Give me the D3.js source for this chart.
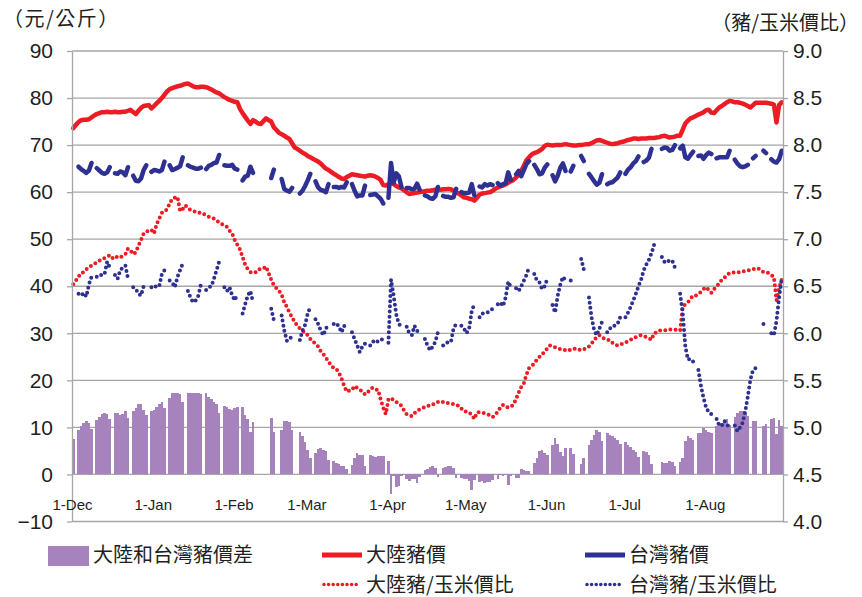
<!DOCTYPE html>
<html><head><meta charset="utf-8">
<script src="https://cdn.jsdelivr.net/npm/d3@7"></script>
<style>
html,body{margin:0;padding:0;background:#fff;}
svg{display:block;font-family:"Liberation Sans",Arial,sans-serif;}
.cjk{font-family:"Noto Sans CJK TC","Noto Sans CJK SC",sans-serif;}
</style></head><body>
<svg id="chart" width="862" height="597"></svg>
<script>
// ---------------- data ----------------
const startDate = "2013-12-01";
const endDate = "2014-08-31";
const xTickDates = ["2013-12-01","2014-01-01","2014-02-01","2014-03-01","2014-04-01","2014-05-01","2014-06-01","2014-07-01","2014-08-01"];
const leftTicks = [-10,0,10,20,30,40,50,60,70,80,90];
const rightTicks = [4.0,4.5,5.0,5.5,6.0,6.5,7.0,7.5,8.0,8.5,9.0];
const leftUnit = "（元/公斤）";
const rightUnit = "（豬/玉米價比）";
const seriesNames = ["大陸和台灣豬價差","大陸豬價","台灣豬價","大陸豬/玉米價比","台灣豬/玉米價比"];
const n = null;

// daily values, one per day from startDate
const mainlandPrice = [
73.6,74.3,74.9,75.3,75.4,75.4,75.5,75.9,76.3,76.6,
76.8,77.0,77.0,77.1,77.0,77.0,77.1,77.0,77.0,77.1,
77.1,77.3,77.5,77.0,76.6,77.3,77.9,78.3,78.4,78.5,
77.8,78.3,78.9,79.4,80.0,80.7,81.4,81.9,82.1,82.3,
82.5,82.6,82.8,83.0,83.1,82.8,82.5,82.3,82.3,82.4,
82.4,82.3,82.1,81.8,81.5,81.2,81.0,80.6,80.2,79.9,
79.6,79.4,79.2,79.1,77.7,76.8,76.0,75.2,74.5,75.3,
75.0,74.6,74.5,75.1,75.7,75.3,75.0,73.8,73.2,72.6,
72.3,72.0,71.6,71.3,70.4,69.5,69.2,68.8,68.4,68.1,
67.7,67.4,67.1,66.8,66.5,66.1,65.5,65.0,64.7,64.3,
63.9,63.6,63.2,62.9,62.8,63.2,63.5,63.8,63.7,63.6,
63.5,63.4,63.3,63.5,63.6,63.5,63.3,63.0,62.6,61.5,
61.4,61.7,62.0,61.7,61.3,61.0,60.8,60.4,60.0,59.6,
59.7,59.8,59.9,60.0,60.1,60.2,60.3,60.3,60.4,60.5,
60.5,60.5,60.6,60.6,60.7,60.6,60.3,60.0,59.7,59.3,
58.9,58.8,58.6,58.5,58.2,58.8,59.5,59.7,59.8,59.9,
60.0,60.3,60.7,61.0,61.2,61.4,61.7,62.0,62.3,62.6,
63.1,63.8,64.6,65.6,66.8,67.4,68.0,68.3,68.5,68.8,
69.2,69.8,70.1,70.0,69.9,70.0,70.0,70.0,70.1,70.2,
70.1,70.0,69.9,69.9,70.0,70.0,70.1,70.2,70.2,70.4,
70.7,71.0,71.1,70.9,70.7,70.5,70.3,70.2,70.3,70.4,
70.6,70.7,70.9,71.1,71.2,71.4,71.4,71.3,71.4,71.4,
71.4,71.5,71.5,71.5,71.6,71.7,71.9,72.0,71.8,71.6,
71.7,71.8,72.0,72.0,73.3,74.6,75.2,75.7,75.9,76.2,
76.5,76.7,77.0,77.4,77.5,76.9,76.8,77.4,78.0,78.3,
78.7,79.1,79.4,79.3,79.1,79.1,79.0,78.8,78.6,78.3,
78.0,78.5,79.0,79.0,79.0,79.0,79.0,78.9,78.8,78.6,
74.8,78.5,79.1];

const taiwanPrice = [
66.1,n,65.4,64.9,64.5,64.1,64.6,66.2,n,65.1,
64.6,64.1,63.9,64.2,65.3,n,64.0,63.9,64.4,64.2,
63.6,65.3,n,63.5,62.4,62.3,62.9,64.7,65.7,n,
64.3,64.7,64.6,64.4,64.7,66.5,n,65.7,64.7,64.9,
65.2,65.5,67.4,n,65.7,65.4,65.2,65.0,65.0,65.2,
n,64.9,65.6,65.8,66.2,66.3,67.9,n,65.7,65.6,
65.6,65.8,65.0,64.8,n,62.5,63.3,63.5,65.4,64.1,
n,n,n,n,n,n,63.0,64.8,n,n,
62.8,60.7,60.3,60.1,60.9,n,n,59.7,60.3,61.3,
62.5,63.9,n,62.3,61.0,60.5,60.3,60.0,61.7,n,
61.1,61.1,60.9,61.1,61.0,62.1,n,61.7,60.3,59.1,
59.3,59.3,61.4,n,59.4,59.5,59.6,59.1,58.6,57.6,
n,58.8,66.2,62.0,64.0,63.4,61.1,n,60.9,60.9,
60.6,60.7,61.8,60.5,n,59.3,59.1,58.7,58.6,59.1,
61.1,n,59.2,59.0,59.0,58.8,58.9,60.7,n,60.0,
59.8,59.8,59.9,61.7,59.3,n,61.2,61.0,61.7,61.4,
61.7,61.5,n,61.9,61.4,61.7,61.9,64.2,62.6,n,
63.8,64.5,63.4,64.7,66.0,66.6,n,65.8,64.9,63.8,
64.0,65.2,65.9,n,63.6,62.3,63.5,65.2,66.1,64.5,
n,64.4,65.6,n,n,67.7,66.6,n,63.9,63.1,
62.3,61.6,62.0,63.8,n,61.7,62.0,62.1,62.6,63.1,
64.2,n,63.9,64.8,65.3,66.1,66.6,67.6,n,66.4,
66.7,67.3,69.2,n,n,n,69.2,69.5,69.4,68.8,
69.0,70.0,n,69.3,69.9,67.4,67.1,67.9,68.6,n,
67.7,67.8,67.1,67.9,68.4,68.1,n,67.2,67.4,67.4,
67.4,67.4,68.8,n,66.9,66.1,65.5,65.3,65.5,65.8,
n,67.2,67.7,n,n,68.8,68.3,n,67.0,66.5,
66.3,67.0,68.8];

const priceGap = [
7.5,n,9.5,10.4,10.9,11.3,10.9,9.7,n,11.5,
12.2,12.9,13.1,12.9,11.7,n,13.1,13.1,12.6,12.9,
13.5,12.0,n,13.5,14.2,15.0,15.0,13.6,12.7,n,
13.5,13.6,14.3,15.0,15.3,14.2,n,16.2,17.4,17.4,
17.3,17.1,15.4,n,17.4,17.4,17.3,17.3,17.3,17.2,
n,17.4,16.5,16.0,15.3,14.9,13.1,n,14.5,14.3,
14.0,13.6,14.2,14.3,n,14.3,12.7,11.7,9.1,11.2,
n,n,n,n,n,n,12.0,9.0,n,n,
9.5,11.3,11.3,11.2,9.5,n,n,9.1,8.1,6.8,
5.2,3.5,n,4.5,5.5,5.6,5.2,5.0,3.0,n,
2.8,2.5,2.3,1.8,1.8,1.1,n,2.1,3.4,4.5,
4.2,4.1,1.9,n,4.2,4.0,3.7,3.9,4.0,3.9,
n,2.9,-4.2,-0.3,-2.7,-2.4,-0.3,n,-0.9,-1.3,
-0.9,-0.9,-1.9,-0.5,n,0.9,1.2,1.6,1.8,1.4,
-0.6,n,1.4,1.6,1.7,1.8,1.4,-0.7,n,-0.7,
-0.9,-1.0,-1.3,-3.2,-1.1,n,-1.7,-1.3,-1.9,-1.5,
-1.7,-1.2,n,-0.9,-0.2,-0.3,-0.2,-2.2,-0.3,n,
-0.7,-0.7,1.2,0.9,0.8,0.8,n,2.5,3.6,5.0,
5.2,4.6,4.2,n,6.3,7.7,6.5,4.8,4.0,5.7,
n,5.6,4.3,n,n,2.3,3.5,n,6.3,7.3,
8.4,9.4,9.1,7.1,n,8.8,8.3,8.1,7.7,7.3,
6.4,n,7.0,6.3,5.9,5.3,4.8,3.7,n,5.0,
4.7,4.2,2.3,n,n,n,2.7,2.5,2.4,2.8,
2.7,1.8,n,2.7,3.4,7.2,8.1,7.8,7.3,n,
8.8,8.9,9.9,9.5,9.1,8.8,n,10.2,10.6,10.9,
11.3,11.7,10.6,n,12.2,13.0,13.5,13.5,13.1,12.5,
n,11.3,11.3,n,n,10.2,10.7,n,11.8,12.1,
8.5,11.5,10.3];

const mainlandRatio = [
6.52,6.56,6.60,6.64,6.65,6.68,6.70,6.72,6.74,6.75,
6.77,6.79,6.80,6.81,6.83,6.80,6.79,6.82,6.81,6.82,
6.84,6.90,6.88,6.84,6.86,6.93,6.99,7.06,7.08,7.09,
7.10,7.06,7.16,7.22,7.28,7.29,7.32,7.38,7.43,7.44,
7.45,7.30,7.32,7.36,7.33,7.31,7.30,7.29,7.29,7.27,
7.27,7.25,7.24,7.23,7.22,7.20,7.18,7.16,7.15,7.13,
7.09,7.06,6.99,6.94,6.89,6.81,6.73,6.68,6.65,6.64,
6.65,6.68,6.68,6.69,6.71,6.64,6.57,6.51,6.48,6.45,
6.41,6.33,6.28,6.22,6.17,6.12,6.08,6.05,6.03,6.00,
5.98,5.94,5.91,5.89,5.86,5.81,5.78,5.74,5.70,5.66,
5.63,5.62,5.58,5.52,5.44,5.38,5.39,5.40,5.44,5.42,
5.40,5.38,5.35,5.37,5.41,5.42,5.40,5.40,5.30,5.21,
5.14,5.30,5.31,5.29,5.27,5.25,5.23,5.18,5.14,5.13,
5.12,5.15,5.18,5.19,5.20,5.22,5.23,5.23,5.24,5.26,
5.27,5.28,5.27,5.26,5.26,5.25,5.25,5.24,5.23,5.20,
5.17,5.17,5.16,5.13,5.09,5.16,5.16,5.16,5.15,5.14,
5.13,5.11,5.13,5.17,5.21,5.24,5.22,5.21,5.22,5.24,
5.30,5.37,5.43,5.47,5.56,5.63,5.65,5.68,5.72,5.75,
5.78,5.80,5.84,5.87,5.86,5.85,5.84,5.83,5.83,5.82,
5.83,5.82,5.83,5.84,5.83,5.82,5.83,5.84,5.86,5.89,
5.93,5.96,5.98,5.96,5.94,5.93,5.93,5.90,5.88,5.87,
5.88,5.89,5.90,5.92,5.93,5.95,5.96,5.97,5.98,5.97,
5.96,5.95,5.93,6.00,6.01,6.03,6.03,6.03,6.04,6.04,
6.04,6.04,6.03,6.03,6.28,6.31,6.33,6.37,6.40,6.40,
6.42,6.44,6.47,6.49,6.46,6.43,6.47,6.50,6.53,6.57,
6.59,6.62,6.64,6.64,6.65,6.65,6.65,6.66,6.66,6.67,
6.67,6.68,6.69,6.69,6.67,6.65,6.65,6.64,6.62,6.60,
6.35,6.48,6.57];

const taiwanRatio = [
6.49,n,6.42,6.40,6.43,6.39,6.52,6.60,n,6.60,
6.60,6.63,6.63,6.76,6.70,n,6.62,6.58,6.67,6.70,
6.72,6.58,n,6.49,6.47,6.42,6.40,6.50,6.49,n,
6.49,6.51,6.49,6.50,6.63,6.67,n,6.56,6.54,6.49,
6.60,6.67,6.74,n,6.45,6.38,6.33,6.35,6.40,6.52,
n,6.46,6.49,6.50,6.58,6.67,6.76,n,6.49,6.45,
6.49,6.40,6.35,6.42,n,6.21,6.31,6.40,6.45,6.33,
n,n,n,n,n,n,6.26,6.14,n,n,
6.19,6.03,5.92,5.93,5.98,n,n,5.93,6.03,6.09,
6.21,6.28,n,6.15,6.10,6.03,5.98,6.05,6.10,n,
6.10,6.11,6.07,6.01,6.08,6.05,n,6.01,5.94,5.87,
5.80,5.86,5.89,n,5.87,5.91,5.93,5.91,5.93,5.94,
n,5.90,6.57,6.40,6.20,6.10,6.07,n,6.07,6.00,
5.98,6.08,6.03,5.98,n,5.94,5.87,5.82,5.86,5.91,
6.01,n,5.87,5.89,5.91,5.91,6.05,6.10,n,6.08,
6.05,6.00,6.05,6.24,6.31,n,6.17,6.21,6.21,6.22,
6.24,6.26,n,6.31,6.33,6.29,6.38,6.55,6.49,n,
6.48,6.45,6.50,6.56,6.62,6.70,n,6.63,6.56,6.54,
6.47,6.50,6.58,n,6.30,6.22,6.40,6.52,6.60,6.56,
n,6.56,6.56,n,n,6.79,6.68,n,6.38,6.17,
6.03,5.98,6.05,6.12,n,6.01,6.05,6.08,6.08,6.10,
6.17,n,6.17,6.22,6.28,6.35,6.42,6.50,6.57,6.67,
6.73,6.78,6.85,6.94,n,n,6.81,6.76,6.78,6.76,
6.77,6.70,n,6.42,6.21,5.86,5.72,5.73,5.70,n,
5.61,5.44,5.31,5.21,5.16,5.14,n,5.09,5.02,5.02,
5.07,5.03,5.00,n,5.02,4.96,5.00,5.05,5.17,5.33,
5.51,5.61,5.63,n,n,6.10,6.09,n,6.00,5.98,
6.13,6.38,6.58];

// ---------------- styles ----------------
const colors = {gap:"#a783bd", mainland:"#ed1c24", taiwan:"#2e3192", grid:"#a6a6a6", text:"#231f20"};

// ---------------- chart ----------------
const svg = d3.select("#chart");
const parse = d3.utcParse("%Y-%m-%d");
const t0 = parse(startDate), t1 = parse(endDate);
const L = 72, R = 783, T = 51, B = 521.5;
const x = d3.scaleUtc().domain([t0, t1]).range([L, R]);
const yL = d3.scaleLinear().domain([-10, 90]).range([B, T]);
const yR = d3.scaleLinear().domain([4, 9]).range([B, T]);
const dayStart = i => d3.utcDay.offset(t0, i);
const dayMid = i => x(d3.utcHour.offset(dayStart(i), 12));

// gridlines
svg.append("g").selectAll("line").data(leftTicks).join("line")
  .attr("x1", L).attr("x2", R)
  .attr("y1", d => yL(d)).attr("y2", d => yL(d))
  .attr("stroke", colors.grid).attr("stroke-width", 1.3);

// bars (contiguous within each run of days, like the reference)
const barData = priceGap.map((v, i) => ({v, i})).filter(d => d.v != null);
svg.append("g").attr("shape-rendering", "crispEdges").selectAll("rect").data(barData).join("rect")
  .attr("x", d => Math.round(x(dayStart(d.i))))
  .attr("width", d => Math.round(x(dayStart(d.i + 1))) - Math.round(x(dayStart(d.i))))
  .attr("y", d => yL(Math.max(0, d.v)))
  .attr("height", d => Math.abs(yL(d.v) - yL(0)))
  .attr("fill", colors.gap);

// lines
function pathFor(arr, y) {
  const ok = i => arr[i] != null && ((i > 0 && arr[i-1] != null) || (i < arr.length - 1 && arr[i+1] != null));
  return d3.line().defined((d, i) => ok(i)).x((d, i) => dayMid(i)).y(d => y(d))(arr);
}
const lineSpecs = [
  {arr: mainlandPrice, y: yL, color: colors.mainland, dotted: false},
  {arr: taiwanPrice, y: yL, color: colors.taiwan, dotted: false},
  {arr: mainlandRatio, y: yR, color: colors.mainland, dotted: true},
  {arr: taiwanRatio, y: yR, color: colors.taiwan, dotted: true}
];
lineSpecs.forEach(s => {
  const p = svg.append("path").attr("d", pathFor(s.arr, s.y))
    .attr("fill", "none").attr("stroke", s.color)
    .attr("stroke-linejoin", "round").attr("stroke-linecap", "round");
  if (s.dotted) p.attr("stroke-width", 4).attr("stroke-dasharray", "0 5.2");
  else p.attr("stroke-width", 4.5);
});

// axes
const axL = svg.append("g").attr("transform", `translate(${L},0)`)
  .call(d3.axisLeft(yL).tickValues(leftTicks).tickFormat(d3.format("d")).tickSize(5).tickSizeOuter(0).tickPadding(14));
const axR = svg.append("g").attr("transform", `translate(${R},0)`)
  .call(d3.axisRight(yR).tickValues(rightTicks).tickFormat(d3.format(".1f")).tickSize(5).tickSizeOuter(0).tickPadding(5));
[axL, axR].forEach(g => {
  g.select(".domain").attr("stroke", colors.grid).attr("stroke-width", 1.3);
  g.selectAll(".tick line").attr("stroke", colors.grid).attr("stroke-width", 1.3);
  g.selectAll(".tick text").attr("font-size", 21).attr("fill", colors.text)
    .attr("font-family", "'Liberation Sans',Arial,sans-serif");
});
const axX = svg.append("g").attr("transform", `translate(0,499)`)
  .call(d3.axisBottom(x).tickValues(xTickDates.map(parse)).tickFormat(d3.utcFormat("%-d-%b")).tickSize(0).tickPadding(0));
axX.select(".domain").remove();
axX.selectAll(".tick text").attr("font-size", 15).attr("fill", colors.text)
  .attr("font-family", "'Liberation Sans',Arial,sans-serif");

// unit labels
svg.append("text").attr("class", "cjk").attr("x", 3).attr("y", 26).attr("font-size", 20)
  .attr("letter-spacing", 1.5).attr("fill", colors.text).text(leftUnit);
svg.append("text").attr("class", "cjk").attr("x", 859).attr("y", 30).attr("text-anchor", "end")
  .attr("font-size", 20).attr("fill", colors.text).text(rightUnit);

// legend
const leg = svg.append("g");
const row1 = 555, row2 = 584.5;
const legItems = [
  {type: "rect", x: 48, y: row1, color: colors.gap, label: seriesNames[0]},
  {type: "line", x: 322, y: row1, color: colors.mainland, label: seriesNames[1]},
  {type: "line", x: 585, y: row1, color: colors.taiwan, label: seriesNames[2]},
  {type: "dot", x: 322, y: row2, color: colors.mainland, label: seriesNames[3]},
  {type: "dot", x: 585, y: row2, color: colors.taiwan, label: seriesNames[4]}
];
legItems.forEach(it => {
  if (it.type === "rect") {
    leg.append("rect").attr("x", it.x).attr("y", it.y - 9).attr("width", 41).attr("height", 20).attr("fill", it.color);
    leg.append("text").attr("class", "cjk").attr("x", it.x + 45).attr("y", it.y + 7).attr("font-size", 20)
      .attr("fill", colors.text).text(it.label);
  } else {
    const ln = leg.append("line").attr("x1", it.x + 2).attr("x2", it.x + 38).attr("y1", it.y).attr("y2", it.y)
      .attr("stroke", it.color).attr("stroke-linecap", "round");
    if (it.type === "dot") ln.attr("stroke-width", 3.6).attr("stroke-dasharray", "0 4.6");
    else ln.attr("stroke-width", 5).attr("stroke-linecap", "butt").attr("x1", it.x).attr("x2", it.x + 40);
    leg.append("text").attr("class", "cjk").attr("x", it.x + 44).attr("y", it.y + 7).attr("font-size", 20)
      .attr("fill", colors.text).text(it.label);
  }
});
</script>
</body></html>
